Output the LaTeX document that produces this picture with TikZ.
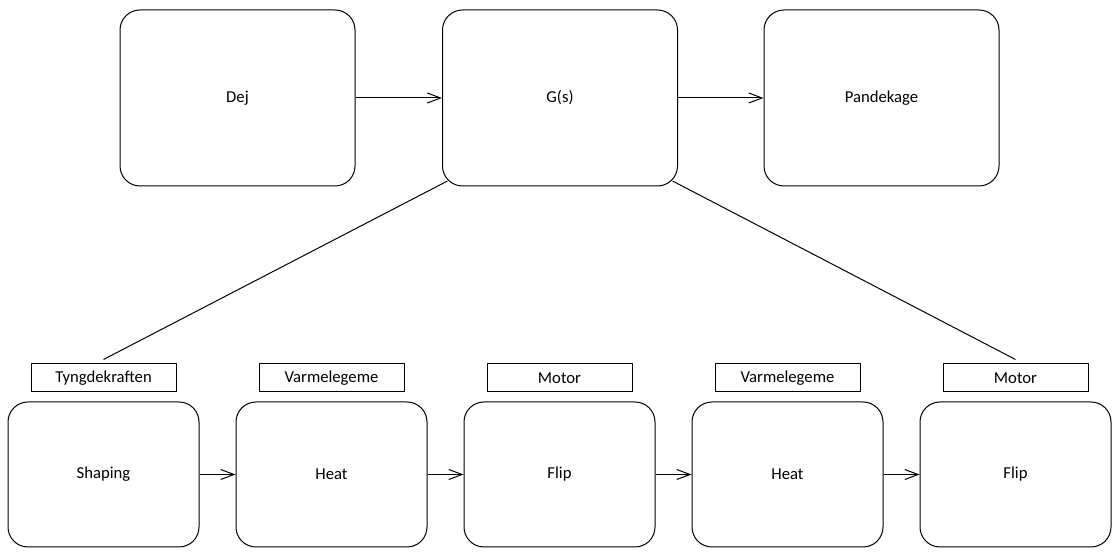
\documentclass[tikz,border=0pt]{standalone}
\usepackage{fontspec}
\setmainfont{Carlito}
\usetikzlibrary{arrows.meta,calc}
\tikzset{
  txt/.style={font=\fontsize{12.5}{15}\selectfont},
  bigbox/.style={draw, line width=0.75pt, rounded corners=15pt, minimum width=235*0.75pt, minimum height=176*0.75pt, inner sep=0pt, txt},
  smallbox/.style={draw, line width=0.75pt, rounded corners=15pt, minimum width=191*0.75pt, minimum height=145*0.75pt, inner sep=0pt, txt},
  labelbox/.style={draw, line width=0.75pt, minimum width=145*0.75pt, minimum height=28*0.75pt, inner sep=0pt, txt},
  arr/.style={line width=0.75pt, -{Straight Barb[length=10pt,width=7.5pt]}},
  conn/.style={line width=0.75pt}
}
\begin{document}
\begin{tikzpicture}[x=0.75pt,y=-0.75pt]
\useasboundingbox (0,0) rectangle (1118,555);
\node[bigbox] (dej) at (237.5,98) {Dej};
\node[bigbox] (g) at (560,98) {G(s)};
\node[bigbox] (pan) at (881.5,98) {Pandekage};
\node[smallbox] (b1) at (103.5,474.5) {Shaping};
\node[smallbox] (b2) at (331.5,474.5) {Heat};
\node[smallbox] (b3) at (559.5,474.5) {Flip};
\node[smallbox] (b4) at (787.5,474.5) {Heat};
\node[smallbox] (b5) at (1015.5,474.5) {Flip};
\node[labelbox] (l1) at (103.5,378) {Tyngdekraften};
\node[labelbox] (l2) at (331.5,378) {Varmelegeme};
\node[labelbox] (l3) at (559.5,378) {Motor};
\node[labelbox] (l4) at (787.5,378) {Varmelegeme};
\node[labelbox] (l5) at (1015.5,378) {Motor};
\draw[arr] (dej.east) -- (g.west);
\draw[arr] (g.east) -- (pan.west);
\draw[arr] (b1.east) -- (b2.west);
\draw[arr] (b2.east) -- (b3.west);
\draw[arr] (b3.east) -- (b4.west);
\draw[arr] (b4.east) -- (b5.west);
\coordinate (gl) at ($(g.south west)+(5.5,-5.5)$);
\coordinate (gr) at ($(g.south east)+(-5.5,-5.5)$);
\coordinate (t1) at ($(l1.north)+(0,-4)$);
\coordinate (t5) at ($(l5.north)+(0,-4)$);
\draw[conn] (gl) -- (t1);
\draw[conn] (gr) -- (t5);
\end{tikzpicture}
\end{document}
